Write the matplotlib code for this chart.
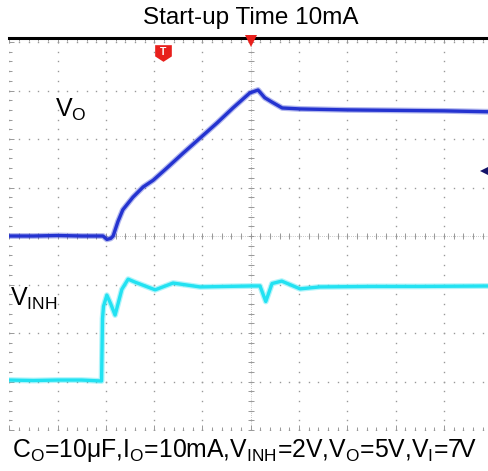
import matplotlib
matplotlib.use('Agg')
import matplotlib.pyplot as plt
import numpy as np
from matplotlib.ticker import MultipleLocator

plt.rcParams['font.family'] = ['Liberation Sans', 'DejaVu Sans']
plt.rcParams['mathtext.fontset'] = 'custom'
plt.rcParams['mathtext.rm'] = 'Liberation Sans'
plt.rcParams['mathtext.it'] = 'Liberation Sans'

# scope screen: 10 x 8 divisions, values in divisions
VO_T = [0.0, 0.5, 1.0, 1.5, 1.94, 2.02, 2.10, 2.15, 2.25, 2.35, 2.56, 2.77, 2.98, 3.26,
        3.60, 3.95, 4.30, 4.63, 4.98, 5.15, 5.29, 5.44, 5.65, 6.02, 7.0, 8.0, 9.0, 10.0]
VO_V = [4.0, 4.0, 4.01, 4.0, 4.0, 3.93, 3.95, 4.0, 4.3, 4.54, 4.80, 5.01, 5.15, 5.40,
        5.71, 6.02, 6.33, 6.64, 6.95, 7.01, 6.85, 6.76, 6.64, 6.62, 6.60, 6.59, 6.58, 6.56]

VINH_T = [0.0, 0.5, 1.0, 1.5, 1.91, 1.93, 1.95, 2.02, 2.10, 2.19, 2.33, 2.46, 2.60, 3.02,
          3.39, 3.95, 5.02, 5.19, 5.31, 5.44, 5.64, 6.02, 6.43, 7.5, 8.5, 10.0]
VINH_V = [1.03, 1.02, 1.03, 1.03, 1.01, 2.3, 2.55, 2.78, 2.60, 2.37, 2.90, 3.11, 3.05, 2.89,
          3.03, 2.95, 2.97, 2.97, 2.65, 3.02, 3.07, 2.91, 2.95, 2.96, 2.96, 2.97]

TITLE = 'Start-up Time 10mA'
CAPTION = (r'C$_\mathrm{O}$=10μF,I$_\mathrm{O}$=10mA,V$_\mathrm{INH}$=2V,'
           r'V$_\mathrm{O}$=5V,V$_\mathrm{I}$=7V')

N_X, N_Y = 10, 8
GRID_GREY = '#999999'
VO_COLOR = '#2433d0'
VINH_COLOR = '#22e2f2'

W, H = 489, 471
fig = plt.figure(figsize=(W / 100, H / 100), dpi=100)
left, right_px = 9.3, 492.3
bottom_px, top_px = 430.0, 38.0
ax = fig.add_axes([left / W, 1 - bottom_px / H, (right_px - left) / W, (bottom_px - top_px) / H])
ax.set_xlim(0, N_X)
ax.set_ylim(0, (bottom_px - top_px) / 48.5)

for side in ['left', 'right', 'bottom']:
    ax.spines[side].set_visible(False)
ax.spines['top'].set_linewidth(2.2)
ax.spines['top'].set_color('black')

ax.xaxis.set_major_locator(MultipleLocator(1))
ax.xaxis.set_minor_locator(MultipleLocator(0.2))
ax.yaxis.set_major_locator(MultipleLocator(1))
ax.yaxis.set_minor_locator(MultipleLocator(0.2))
ax.tick_params(which='both', direction='in', top=True, bottom=True, left=True, right=False,
               labelbottom=False, labelleft=False, color=GRID_GREY, width=0.7)
ax.tick_params(which='major', length=3.5)
ax.tick_params(which='minor', length=2.5)

# dotted graticule
minor_x = np.arange(0, N_X + 0.01, 0.2)
minor_y = np.arange(0, N_Y + 0.01, 0.2)
for gx in range(0, N_X + 1):
    ax.plot(np.full_like(minor_y, gx), minor_y, ls='none', marker='s', ms=1.0, mew=0,
            color=GRID_GREY, zorder=1)
for gy in range(0, N_Y + 1):
    ax.plot(minor_x, np.full_like(minor_x, gy), ls='none', marker='s', ms=1.0, mew=0,
            color=GRID_GREY, zorder=1)

# centre axes with tick marks
cx, cy = N_X / 2, N_Y / 2
ax.axvline(cx, color=GRID_GREY, lw=0.5, ls=(0, (1, 2)), zorder=1)
ax.axhline(cy, color=GRID_GREY, lw=0.5, ls=(0, (1, 2)), zorder=1)
ax.plot(minor_x, np.full_like(minor_x, cy), ls='none', marker='|', ms=5, mew=0.7,
        color=GRID_GREY, zorder=1)
ax.plot(np.full_like(minor_y, cx), minor_y, ls='none', marker='_', ms=5, mew=0.7,
        color=GRID_GREY, zorder=1)

# traces
ax.plot(VO_T, VO_V, color=VO_COLOR, lw=4.2, alpha=0.35, zorder=3, solid_joinstyle='round')
ax.plot(VO_T, VO_V, color=VO_COLOR, lw=2.4, zorder=4, solid_joinstyle='round')
ax.plot(VINH_T, VINH_V, color=VINH_COLOR, lw=4.2, alpha=0.35, zorder=3, solid_joinstyle='round')
ax.plot(VINH_T, VINH_V, color=VINH_COLOR, lw=2.4, zorder=4, solid_joinstyle='round')

# scope markers
shield = [(-1, 1), (1, 1), (1, -0.35), (0, -1), (-1, -0.35), (-1, 1)]
ax.plot([3.18], [7.77], ls='none', marker=shield, ms=12, color='#e8201c', mew=0, zorder=5)
ax.text(3.18, 7.80, 'T', color='white', fontsize=7.5, fontweight='bold',
        ha='center', va='center', zorder=6)
ax.plot([5.0], [8.02], ls='none', marker='v', ms=9, color='#e8201c', mew=0, zorder=5,
        clip_on=False)
ax.plot([9.85], [5.34], ls='none', marker='<', ms=7, color='#14146a', mew=0, zorder=5)

ax.text(0.95, 6.6, r'V$_\mathrm{O}$', fontsize=18, ha='left', va='center')
ax.text(0.02, 2.7, r'V$_\mathrm{INH}$', fontsize=18, ha='left', va='center')

fig.text(250.5 / W, 1 - 18 / H, TITLE, fontsize=17.5, ha='center', va='center')
fig.text(0.5, 1 - 451 / H, CAPTION, fontsize=17.8, ha='center', va='center')

fig.savefig('out.png', dpi=100)
